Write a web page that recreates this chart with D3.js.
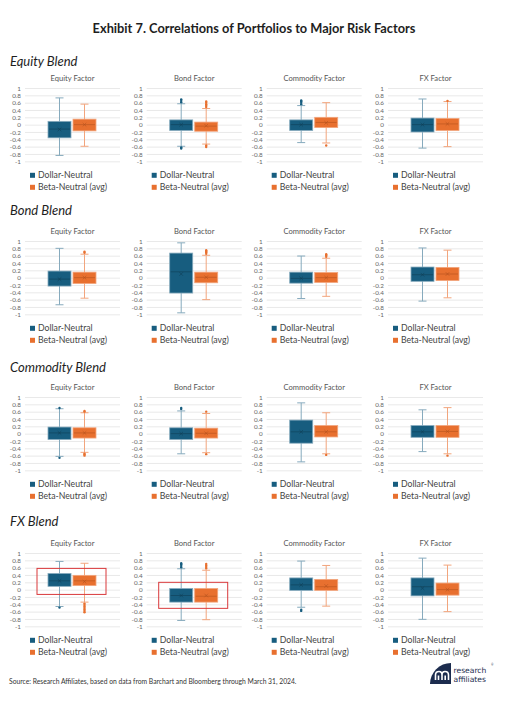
<!DOCTYPE html>
<meta charset="utf-8">
<html>
<head>
<title>Exhibit 7</title>
<script src="https://cdn.jsdelivr.net/npm/d3@7"></script>
<style>
  body { margin: 0; background: #fff; }
  text { font-family: Lato, "Open Sans", sans-serif; }
</style>
</head>
<body>
<script>

// ---- data ----
var blends = ["Equity Blend", "Bond Blend", "Commodity Blend", "FX Blend"];
var factors = ["Equity Factor", "Bond Factor", "Commodity Factor", "FX Factor"];
var seriesNames = ["Dollar-Neutral", "Beta-Neutral (avg)"];
var yTicks = [1, 0.8, 0.6, 0.4, 0.2, 0, -0.2, -0.4, -0.6, -0.8, -1];

// each cell: [whisker low, q1, median, q3, whisker high, mean]
var dollarNeutral = [
  [[-0.84, -0.36, -0.12, 0.09, 0.73, -0.13], [-0.59, -0.16, 0, 0.13, 0.57, 0], [-0.49, -0.16, 0, 0.13, 0.52, 0], [-0.64, -0.2, 0, 0.18, 0.7, 0]],
  [[-0.74, -0.23, -0.04, 0.18, 0.8, -0.04], [-0.96, -0.42, 0.16, 0.67, 0.95, 0.1], [-0.57, -0.15, -0.02, 0.15, 0.59, -0.02], [-0.64, -0.1, 0.08, 0.29, 0.81, 0.08]],
  [[-0.62, -0.16, 0.02, 0.18, 0.68, 0.02], [-0.55, -0.16, 0, 0.16, 0.62, 0], [-0.77, -0.26, 0.05, 0.37, 0.84, 0.05], [-0.49, -0.1, 0.05, 0.22, 0.65, 0.05]],
  [[-0.46, 0.09, 0.24, 0.44, 0.77, 0.24], [-0.84, -0.34, -0.16, 0.03, 0.57, -0.16], [-0.48, -0.02, 0.13, 0.32, 0.78, 0.13], [-0.81, -0.17, 0.08, 0.32, 0.86, 0.04]]
];
var betaNeutral = [
  [[-0.59, -0.17, 0, 0.15, 0.56, 0], [-0.53, -0.18, -0.04, 0.07, 0.44, -0.03], [-0.5, -0.08, 0.06, 0.2, 0.6, 0.05], [-0.6, -0.16, 0.02, 0.17, 0.63, 0.02]],
  [[-0.56, -0.16, 0, 0.15, 0.64, 0], [-0.6, -0.14, 0.01, 0.15, 0.61, 0.01], [-0.51, -0.13, 0, 0.14, 0.53, 0], [-0.55, -0.08, 0.1, 0.28, 0.75, 0.1]],
  [[-0.51, -0.12, 0.02, 0.16, 0.57, 0.02], [-0.52, -0.12, 0.01, 0.15, 0.55, 0.01], [-0.55, -0.09, 0.05, 0.22, 0.57, 0.05], [-0.55, -0.1, 0.06, 0.22, 0.71, 0.06]],
  [[-0.34, 0.11, 0.24, 0.39, 0.72, 0.22], [-0.82, -0.34, -0.18, 0.03, 0.53, -0.16], [-0.45, -0.02, 0.08, 0.28, 0.66, 0.1], [-0.6, -0.15, 0, 0.18, 0.67, 0]]
];
var dollarOutliers = [
  [[], [0.61, 0.65, 0.69, -0.62, -0.65], [0.56, 0.6, 0.64, 0.66], []],
  [[], [], [], []],
  [[0.7, -0.66], [0.67, 0.7], [], []],
  [[-0.49], [0.61, 0.65, 0.69, 0.72], [-0.55, -0.58], []]
];
var betaOutliers = [
  [[], [0.48, 0.52, 0.56, 0.6, 0.63, -0.57, -0.61], [-0.57], [0.65]],
  [[0.68, 0.71], [0.65, 0.69, 0.72, 0.75], [0.57, 0.61, 0.64], []],
  [[0.6, 0.62, -0.55, -0.57, -0.6], [0.6, -0.56], [-0.58], [-0.6]],
  [[-0.38, -0.42, -0.46, -0.5, -0.54, -0.58, -0.62], [0.58, 0.62, 0.66, 0.7], [], []]
];
// red highlight boxes: [blend index, factor index, top, bottom]
var highlights = [[3, 0, 0.58, -0.13], [3, 1, 0.2, -0.51]];

var sourceNote = "Source: Research Affiliates, based on data from Barchart and Bloomberg through March 31, 2024.";

// ---- layout ----
var width = 508, height = 708;
var colors = ["#175d7f", "#e8702f"];
var lightColors = ["#86aabd", "#f2a57d"];
var darkColors = ["#0f4058", "#b5531e"];
var colLeft = [25, 146.7, 266.7, 388];
var rowTop = [88, 241, 397, 553];
var blendTitleY = [61, 210, 367, 521];
var plotW = 95, plotH = 73.3;

var svg = d3.select("body").append("svg")
    .attr("width", width)
    .attr("height", height);

svg.append("text")
    .attr("x", width / 2)
    .attr("y", 33)
    .attr("text-anchor", "middle")
    .style("font-size", "12.8px")
    .style("font-weight", "bold")
    .style("fill", "#1e1e1e")
    .text("Exhibit 7. Correlations of Portfolios to Major Risk Factors");

blends.forEach(function(blend, r) {

  svg.append("text")
      .attr("x", 10)
      .attr("y", blendTitleY[r] + 5)
      .style("font-size", "13px")
      .style("font-style", "italic")
      .style("fill", "#1e1e1e")
      .text(blend);

  var y = d3.scaleLinear().domain([-1, 1]).range([rowTop[r] + plotH, rowTop[r]]);

  factors.forEach(function(factor, c) {
    var x0 = colLeft[c];
    var g = svg.append("g");

    var x = d3.scaleBand()
        .domain(seriesNames)
        .range([x0 + 23, x0 + 71])
        .paddingInner(0.08);

    g.append("text")
        .attr("x", x0 + plotW / 2)
        .attr("y", rowTop[r] - 7.5)
        .attr("text-anchor", "middle")
        .style("font-size", "7.6px")
        .style("fill", "#555")
        .text(factor);

    // grid + tick labels
    var axis = d3.axisLeft(y)
        .tickValues(yTicks)
        .tickSize(-plotW)
        .tickFormat(function(d) { return d3.format("")(d).replace("−", "-"); });
    var ax = g.append("g")
        .attr("transform", "translate(" + x0 + ",0)")
        .call(axis);
    ax.select(".domain").remove();
    ax.selectAll(".tick line").attr("stroke", "#e3e3e3").attr("stroke-width", 0.8);
    ax.selectAll(".tick text")
        .attr("x", -4)
        .style("font-size", "6.3px")
        .style("font-family", "Lato, sans-serif")
        .style("fill", "#666");

    var cells = [dollarNeutral[r][c], betaNeutral[r][c]];
    var outs = [dollarOutliers[r][c], betaOutliers[r][c]];

    cells.forEach(function(s, i) {
      var name = seriesNames[i];
      var cx = x(name) + x.bandwidth() / 2;
      var bg = g.append("g");

      // whisker
      bg.append("line")
          .attr("x1", cx).attr("x2", cx)
          .attr("y1", y(s[0])).attr("y2", y(s[4]))
          .attr("stroke", lightColors[i]).attr("stroke-width", 1);
      [s[0], s[4]].forEach(function(v) {
        bg.append("line")
            .attr("x1", cx - 4).attr("x2", cx + 4)
            .attr("y1", y(v)).attr("y2", y(v))
            .attr("stroke", lightColors[i]).attr("stroke-width", 1);
      });

      // box
      bg.append("rect")
          .attr("x", x(name))
          .attr("width", x.bandwidth())
          .attr("y", y(s[3]))
          .attr("height", y(s[1]) - y(s[3]))
          .attr("fill", colors[i])
          .attr("stroke", lightColors[i])
          .attr("stroke-width", 0.8);

      // median
      bg.append("line")
          .attr("x1", x(name) + 1).attr("x2", x(name) + x.bandwidth() - 1)
          .attr("y1", y(s[2])).attr("y2", y(s[2]))
          .attr("stroke", darkColors[i]).attr("stroke-width", 0.6);

      // mean marker (x)
      var my = y(s[5]);
      bg.append("path")
          .attr("d", "M" + (cx - 1.8) + "," + (my - 1.8) + "L" + (cx + 1.8) + "," + (my + 1.8) +
                     "M" + (cx - 1.8) + "," + (my + 1.8) + "L" + (cx + 1.8) + "," + (my - 1.8))
          .attr("stroke", darkColors[i]).attr("stroke-width", 0.6);

      // outliers
      bg.selectAll("circle")
          .data(outs[i])
          .enter().append("circle")
          .attr("cx", cx)
          .attr("cy", function(d) { return y(d); })
          .attr("r", 1.2)
          .attr("fill", colors[i]);
    });

    // legend
    var ly = rowTop[r] + plotH;
    seriesNames.forEach(function(name, i) {
      g.append("rect")
          .attr("x", x0 + 5)
          .attr("y", ly + 11.5 + i * 12)
          .attr("width", 5)
          .attr("height", 5)
          .attr("fill", colors[i]);
      g.append("text")
          .attr("x", x0 + 13)
          .attr("y", ly + 17 + i * 12)
          .style("font-size", "8.7px")
          .style("fill", "#444")
          .text(name);
    });
  });
});

// red highlight frames
highlights.forEach(function(h) {
  var y = d3.scaleLinear().domain([-1, 1]).range([rowTop[h[0]] + plotH, rowTop[h[0]]]);
  var x0 = colLeft[h[1]];
  svg.append("rect")
      .attr("x", x0 + 12)
      .attr("y", y(h[2]))
      .attr("width", 69)
      .attr("height", y(h[3]) - y(h[2]))
      .attr("fill", "none")
      .attr("stroke", "#d9393b")
      .attr("stroke-width", 1);
});

svg.append("text")
    .attr("x", 9)
    .attr("y", 684)
    .style("font-size", "6.75px")
    .style("fill", "#333")
    .text(sourceNote);

// logo
var logo = svg.append("g").attr("transform", "translate(430,663)");
logo.append("path")
    .attr("d", "M0,21 A21,21 0 0 1 21,0 L21,21 Z")
    .attr("fill", "#1c2c4e");
logo.append("path")
    .attr("d", "M5.5,17 L5.5,12 Q5.5,8.5 9,8.5 Q12,8.5 12,12 L12,17 M12,12 Q12,8.5 15,8.5 Q18.5,8.5 18.5,12 L18.5,17 M8.5,17 L8.5,12.5 M15.2,17 L15.2,12.5")
    .attr("fill", "none")
    .attr("stroke", "#fff")
    .attr("stroke-width", 1.6);
logo.append("text")
    .attr("x", 23.5).attr("y", 9.5)
    .style("font-family", "'DejaVu Sans', sans-serif")
    .style("font-size", "7.6px")
    .style("fill", "#1c2c4e")
    .text("research");
logo.append("text")
    .attr("x", 23.5).attr("y", 18.6)
    .style("font-family", "'DejaVu Sans', sans-serif")
    .style("font-size", "7.6px")
    .style("fill", "#1c2c4e")
    .text("affiliates");
logo.append("text")
    .attr("x", 61).attr("y", 2.5)
    .style("font-size", "3px")
    .style("fill", "#1c2c4e")
    .text("®");

</script>
</body>
</html>
